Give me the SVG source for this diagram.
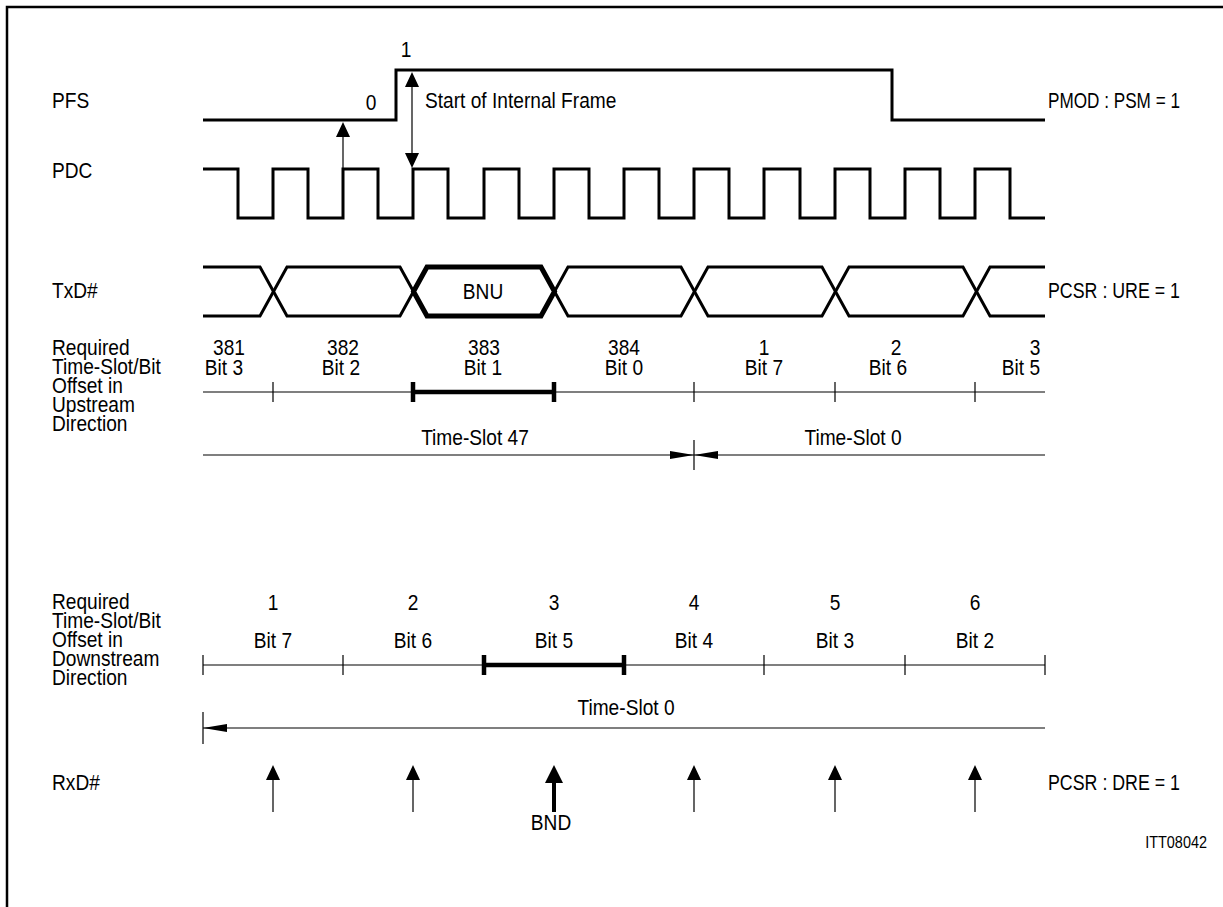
<svg xmlns="http://www.w3.org/2000/svg" width="1223" height="907" viewBox="0 0 1223 907">
<style>
.t{font-family:"Liberation Sans",Arial,Helvetica,sans-serif;font-size:22px;fill:#000}
.m{text-anchor:middle}
.e{text-anchor:end}
.s{font-size:17px}
.sig{fill:none;stroke:#000;stroke-width:3;stroke-linejoin:miter}
.thin{fill:none;stroke:#000;stroke-width:1.2}
.bold{fill:none;stroke:#000;stroke-width:5}
.bar{fill:none;stroke:#000;stroke-width:4.5}
</style>
<defs>
<path id="up" d="M0,0 L-7,15 L7,15 Z" fill="#000"/>
<path id="dn" d="M0,0 L-7,-15 L7,-15 Z" fill="#000"/>
<path id="upB" d="M0,0 L-9,18 L9,18 Z" fill="#000"/>
<path id="rt" d="M0,0 L-24,-4 L-24,4 Z" fill="#000"/>
<path id="lt" d="M0,0 L24,-4 L24,4 Z" fill="#000"/>
</defs>
<rect width="1223" height="907" fill="#fff"/>
<g id="frame"><path d="M7,907 V7 H1223" fill="none" stroke="#000" stroke-width="2.5"/></g>

<g id="labels">
<text class="t" transform="matrix(0.87 0 0 1 52 108)">PFS</text>
<text class="t" transform="matrix(0.87 0 0 1 52 178)">PDC</text>
<text class="t" transform="matrix(0.87 0 0 1 52 298)">TxD#</text>
<text class="t" transform="matrix(0.87 0 0 1 52 355)">Required</text>
<text class="t" transform="matrix(0.87 0 0 1 52 374)">Time-Slot/Bit</text>
<text class="t" transform="matrix(0.87 0 0 1 52 393)">Offset in</text>
<text class="t" transform="matrix(0.87 0 0 1 52 412)">Upstream</text>
<text class="t" transform="matrix(0.87 0 0 1 52 431)">Direction</text>
<text class="t" transform="matrix(0.87 0 0 1 52 609)">Required</text>
<text class="t" transform="matrix(0.87 0 0 1 52 628)">Time-Slot/Bit</text>
<text class="t" transform="matrix(0.87 0 0 1 52 647)">Offset in</text>
<text class="t" transform="matrix(0.87 0 0 1 52 666)">Downstream</text>
<text class="t" transform="matrix(0.87 0 0 1 52 685)">Direction</text>
<text class="t" transform="matrix(0.87 0 0 1 52 790)">RxD#</text>
<text class="t" x="1048" y="108" textLength="132" lengthAdjust="spacingAndGlyphs">PMOD : PSM = 1</text>
<text class="t" x="1048" y="298" textLength="132" lengthAdjust="spacingAndGlyphs">PCSR : URE = 1</text>
<text class="t" x="1048" y="790" textLength="132" lengthAdjust="spacingAndGlyphs">PCSR : DRE = 1</text>
<text class="t s e" transform="matrix(0.85 0 0 1 1207 848)">ITT08042</text>
</g>

<g id="pfs">
<path class="sig" d="M203,120 H396 V70 H892 V120 H1045"/>
<text class="t m" transform="matrix(0.87 0 0 1 371 110)">0</text>
<text class="t m" transform="matrix(0.87 0 0 1 406 57)">1</text>
<text class="t" transform="matrix(0.87 0 0 1 425 108)">Start of Internal Frame</text>
</g>

<g id="pdc">
<path class="sig" d="M203,169 H238 V218 H273 V169 H308 V218 H343 V169 H378 V218 H413 V169 H448 V218 H484 V169 H519 V218 H554 V169 H589 V218 H624 V169 H659 V218 H694 V169 H729 V218 H764 V169 H800 V218 H835 V169 H870 V218 H905 V169 H940 V218 H975 V169 H1010 V218 H1045"/>
</g>

<g id="txd">
<path class="sig" d="M203,267 H260 L287,316 H400 L427,267 H541 L568,316 H681 L708,267 H822 L849,316 H963 L990,267 H1045"/>
<path class="sig" d="M203,316 H260 L287,267 H400 L427,316 H541 L568,267 H681 L708,316 H822 L849,267 H963 L990,316 H1045"/>
<path class="bold" d="M413.5,291.5 L427,267 H541 L554.5,291.5 L541,316 H427 Z"/>
<text class="t m" transform="matrix(0.87 0 0 1 483 299)">BNU</text>
</g>

<g id="upstream">
<text class="t m" transform="matrix(0.87 0 0 1 229 355)">381</text>
<text class="t m" transform="matrix(0.87 0 0 1 343 355)">382</text>
<text class="t m" transform="matrix(0.87 0 0 1 484 355)">383</text>
<text class="t m" transform="matrix(0.87 0 0 1 624 355)">384</text>
<text class="t m" transform="matrix(0.87 0 0 1 764 355)">1</text>
<text class="t m" transform="matrix(0.87 0 0 1 896 355)">2</text>
<text class="t m" transform="matrix(0.87 0 0 1 1035 355)">3</text>
<text class="t m" transform="matrix(0.87 0 0 1 224 375)">Bit 3</text>
<text class="t m" transform="matrix(0.87 0 0 1 341 375)">Bit 2</text>
<text class="t m" transform="matrix(0.87 0 0 1 483 375)">Bit 1</text>
<text class="t m" transform="matrix(0.87 0 0 1 624 375)">Bit 0</text>
<text class="t m" transform="matrix(0.87 0 0 1 764 375)">Bit 7</text>
<text class="t m" transform="matrix(0.87 0 0 1 888 375)">Bit 6</text>
<text class="t m" transform="matrix(0.87 0 0 1 1021 375)">Bit 5</text>
<text class="t m" transform="matrix(0.87 0 0 1 475 445)">Time-Slot 47</text>
<text class="t m" transform="matrix(0.87 0 0 1 853 445)">Time-Slot 0</text>
</g>

<g id="downstream">
<text class="t m" transform="matrix(0.87 0 0 1 273 610)">1</text>
<text class="t m" transform="matrix(0.87 0 0 1 413 610)">2</text>
<text class="t m" transform="matrix(0.87 0 0 1 554 610)">3</text>
<text class="t m" transform="matrix(0.87 0 0 1 694 610)">4</text>
<text class="t m" transform="matrix(0.87 0 0 1 835 610)">5</text>
<text class="t m" transform="matrix(0.87 0 0 1 975 610)">6</text>
<text class="t m" transform="matrix(0.87 0 0 1 273 648)">Bit 7</text>
<text class="t m" transform="matrix(0.87 0 0 1 413 648)">Bit 6</text>
<text class="t m" transform="matrix(0.87 0 0 1 554 648)">Bit 5</text>
<text class="t m" transform="matrix(0.87 0 0 1 694 648)">Bit 4</text>
<text class="t m" transform="matrix(0.87 0 0 1 835 648)">Bit 3</text>
<text class="t m" transform="matrix(0.87 0 0 1 975 648)">Bit 2</text>
<text class="t m" transform="matrix(0.87 0 0 1 626 715)">Time-Slot 0</text>
</g>

<g id="rxd">
<text class="t m" transform="matrix(0.87 0 0 1 551 830)">BND</text>
</g>

<g id="connectors">
<line class="thin" x1="343" y1="137" x2="343" y2="169"/>
<use href="#up" x="343" y="122"/>
<line class="thin" x1="412" y1="86" x2="412" y2="154"/>
<use href="#up" x="412" y="72"/>
<use href="#dn" x="412" y="168"/>
<line class="thin" x1="203" y1="392" x2="1045" y2="392"/>
<path class="thin" d="M273,382 V402 M694,382 V402 M835,382 V402 M975,382 V402"/>
<line class="bar" x1="413" y1="392" x2="554" y2="392"/>
<path class="bar" d="M413,382 V402 M554,382 V402"/>
<line class="thin" x1="203" y1="455" x2="1045" y2="455"/>
<line class="thin" x1="694" y1="440" x2="694" y2="470"/>
<use href="#rt" x="694" y="455"/>
<use href="#lt" x="694" y="455"/>
<line class="thin" x1="203" y1="665" x2="1045" y2="665"/>
<path class="thin" d="M203,655 V675 M343,655 V675 M764,655 V675 M905,655 V675 M1045,655 V675"/>
<line class="bar" x1="484" y1="665" x2="624" y2="665"/>
<path class="bar" d="M484,655 V675 M624,655 V675"/>
<line class="thin" x1="203" y1="728" x2="1045" y2="728"/>
<line class="thin" x1="203" y1="712" x2="203" y2="744"/>
<use href="#lt" x="203" y="728"/>
<path class="thin" d="M273,778 V812 M413,778 V812 M694,778 V812 M835,778 V812 M975,778 V812"/>
<use href="#up" x="273" y="765"/>
<use href="#up" x="413" y="765"/>
<use href="#up" x="694" y="765"/>
<use href="#up" x="835" y="765"/>
<use href="#up" x="975" y="765"/>
<line x1="554" y1="780" x2="554" y2="812" stroke="#000" stroke-width="4"/>
<use href="#upB" x="554" y="765"/>
</g>
</svg>
